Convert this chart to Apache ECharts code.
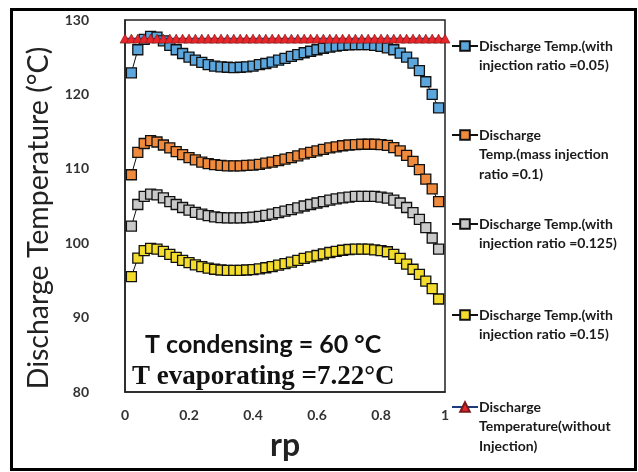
<!DOCTYPE html>
<html>
<head>
<meta charset="utf-8">
<script src="https://cdn.jsdelivr.net/npm/echarts@6/dist/echarts.min.js"></script>
<style>html,body{margin:0;padding:0;background:#fff}#c{width:638px;height:472px}</style>
</head>
<body>
<div id="c"></div>
<script>
const rp = [0.02,0.04,0.06,0.08,0.10,0.12,0.14,0.16,0.18,0.20,0.22,0.24,0.26,0.28,0.30,0.32,0.34,0.36,0.38,0.40,0.42,0.44,0.46,0.48,0.50,0.52,0.54,0.56,0.58,0.60,0.62,0.64,0.66,0.68,0.70,0.72,0.74,0.76,0.78,0.80,0.82,0.84,0.86,0.88,0.90,0.92,0.94,0.96,0.98];
const tInj005 = [122.9,126.0,127.4,127.8,127.7,127.2,126.6,126.0,125.5,125.0,124.6,124.3,124.0,123.8,123.7,123.65,123.6,123.65,123.7,123.8,124.0,124.15,124.35,124.6,124.85,125.1,125.35,125.6,125.8,126.0,126.2,126.35,126.5,126.6,126.65,126.7,126.7,126.7,126.6,126.45,126.25,126.0,125.55,125.0,124.2,123.2,121.7,120.0,118.2];
const tInj010 = [109.2,112.2,113.4,113.8,113.6,113.2,112.8,112.3,111.9,111.5,111.2,110.9,110.7,110.55,110.45,110.4,110.4,110.4,110.45,110.5,110.6,110.75,110.9,111.1,111.3,111.5,111.75,112.0,112.2,112.4,112.6,112.8,112.95,113.1,113.2,113.25,113.3,113.3,113.3,113.25,113.15,112.85,112.4,111.8,111.0,109.9,108.6,107.3,105.6];
const tInj0125 = [102.3,105.2,106.3,106.6,106.5,106.1,105.6,105.2,104.8,104.45,104.15,103.9,103.7,103.55,103.45,103.4,103.4,103.4,103.45,103.5,103.6,103.75,103.9,104.1,104.3,104.5,104.75,105.0,105.2,105.4,105.6,105.8,105.95,106.1,106.2,106.3,106.3,106.3,106.3,106.2,106.05,105.8,105.4,104.8,104.1,103.2,102.1,100.7,99.2];
const tInj015 = [95.5,98.0,99.0,99.3,99.2,98.9,98.5,98.1,97.7,97.4,97.1,96.85,96.65,96.5,96.4,96.35,96.35,96.35,96.4,96.45,96.55,96.7,96.85,97.05,97.25,97.45,97.7,97.95,98.15,98.35,98.55,98.75,98.9,99.05,99.15,99.2,99.2,99.2,99.1,99.0,98.85,98.5,97.95,97.2,96.5,95.8,94.9,93.9,92.5];
const rpNoInj = [0,0.02,0.04,0.06,0.08,0.10,0.12,0.14,0.16,0.18,0.20,0.22,0.24,0.26,0.28,0.30,0.32,0.34,0.36,0.38,0.40,0.42,0.44,0.46,0.48,0.50,0.52,0.54,0.56,0.58,0.60,0.62,0.64,0.66,0.68,0.70,0.72,0.74,0.76,0.78,0.80,0.82,0.84,0.86,0.88,0.90,0.92,0.94,0.96,0.98,1.00];
const tNoInj = [127.5,127.5,127.5,127.5,127.5,127.5,127.5,127.5,127.5,127.5,127.5,127.5,127.5,127.5,127.5,127.5,127.5,127.5,127.5,127.5,127.5,127.5,127.5,127.5,127.5,127.5,127.5,127.5,127.5,127.5,127.5,127.5,127.5,127.5,127.5,127.5,127.5,127.5,127.5,127.5,127.5,127.5,127.5,127.5,127.5,127.5,127.5,127.5,127.5,127.5,127.5];
const yTicks = [80,90,100,110,120,130];
const xTicks = [0,0.2,0.4,0.6,0.8,1];
const seriesNames = ['Discharge Temp.(with injection ratio =0.05)','Discharge Temp.(mass injection ratio =0.1)','Discharge Temp.(with injection ratio =0.125)','Discharge Temp.(with injection ratio =0.15)','Discharge Temperature(without Injection)'];
const legendLines = [
  ['Discharge Temp.(with','injection ratio =0.05)'],
  ['Discharge','Temp.(mass injection','ratio =0.1)'],
  ['Discharge Temp.(with','injection ratio =0.125)'],
  ['Discharge Temp.(with','injection ratio =0.15)'],
  ['Discharge','Temperature(without','Injection)']
];
</script>
<script>
const chart = echarts.init(document.getElementById('c'), null, {renderer:'canvas'});
const F = 'Lato, "Open Sans", sans-serif';
const colors = ['#5ba6dd','#f08a3c','#c9c9c9','#f3dc2c','#e8262a'];
const sqData = [tInj005, tInj010, tInj0125, tInj015];
const series = sqData.map((d,i)=>({
  name: seriesNames[i], type:'line', data: rp.map((x,k)=>[x,d[k]]),
  symbol:'rect', symbolSize: 10,
  lineStyle:{color:'#111', width:1},
  itemStyle:{color:colors[i], borderColor:'#111', borderWidth:1.3},
  z: 2+i, animation:false
}));
series.push({
  name: seriesNames[4], type:'line', data: rpNoInj.map((x,k)=>[x,tNoInj[k]]),
  symbol:'triangle', symbolSize:[10,9],
  lineStyle:{color:'#1f3a78', width:1.5},
  itemStyle:{color:colors[4], borderColor:'#7a1a1a', borderWidth:0.6},
  z: 10, animation:false
});
const lineH = 19.5;
const iconY = [41,130,219,310,402];
const legends = legendLines.map((lines,i)=>{
  const pad = lines.length - 1;
  const total = pad + lines.length;
  return {
    data:[seriesNames[i]], left: 446, top: iconY[i] - total*lineH/2,
    orient:'vertical', itemWidth:26, itemHeight:12, itemGap:0,
    formatter: ()=> '\n'.repeat(pad) + lines.join('\n'),
    textStyle:{fontFamily:F, fontWeight:'bold', fontSize:14, color:'#1a1a1a', lineHeight:lineH, padding:[0,0,0,-4]}
  };
});
chart.setOption({
  backgroundColor:'#fff',
  animation:false,
  grid:{left:125, right:193, top:20, bottom:80, show:true, borderColor:'#222', borderWidth:1.5, backgroundColor:'transparent'},
  legend: legends,
  xAxis:{type:'value', min:0, max:1, interval:0.2,
    name:'rp', nameLocation:'middle', nameGap:38,
    nameTextStyle:{fontFamily:F, fontWeight:'bold', fontSize:32, color:'#222'},
    axisLine:{show:true, lineStyle:{color:'#222', width:1.5}}, axisTick:{show:false}, splitLine:{show:false},
    axisLabel:{margin:16, fontFamily:F, fontWeight:'bold', fontSize:14, color:'#333', formatter:v=>String(xTicks[Math.round(v/0.2)])}},
  yAxis:{type:'value', min:80, max:130, interval:10,
    name:'Discharge Temperature (°C)', nameLocation:'middle', nameGap:72,
    nameTextStyle:{fontFamily:F, fontSize:28.5, color:'#222', padding:[0,24,0,0]},
    axisLine:{show:true, lineStyle:{color:'#222', width:1.5}}, axisTick:{show:false}, splitLine:{show:false},
    axisLabel:{margin:36, fontFamily:F, fontWeight:'bold', fontSize:14, color:'#333', formatter:v=>String(yTicks[Math.round((v-80)/10)])}},
  series: series,
  graphic:[
    {type:'rect', left:9, top:7, shape:{width:624, height:460}, style:{fill:'none', stroke:'#000', lineWidth:3}, silent:true},
    {type:'text', left:145, top:332, style:{text:'T condensing = 60 °C', font:'bold 25px Lato, "Open Sans", sans-serif', fill:'#111'}},
    {type:'text', left:132, top:364, style:{text:'T evaporating =7.22°C', font:'bold 27px "Liberation Serif", "Times New Roman", serif', fill:'#111'}}
  ]
});
</script>
</body>
</html>
